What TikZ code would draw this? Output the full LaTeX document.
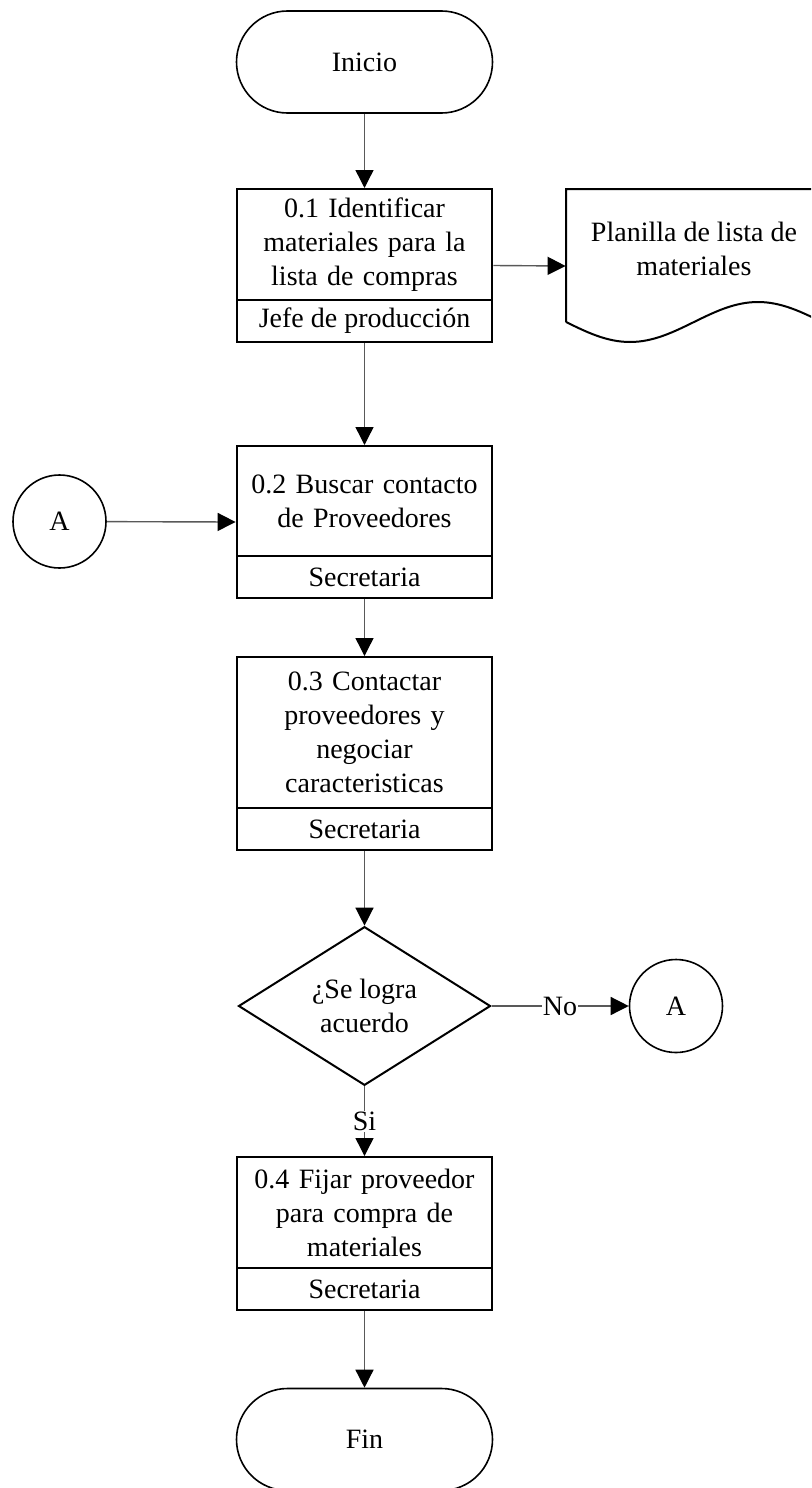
\documentclass[tikz,border=0pt]{standalone}
\usepackage{fontspec}
\setmainfont{Liberation Serif}
\usetikzlibrary{arrows.meta,shapes.geometric,fit}

\begin{document}
\begin{tikzpicture}[x=0.5pt,y=-0.5pt,
  base/.style={font=\fontsize{14}{17}\selectfont, align=center, inner sep=0pt},
  term/.style={base, draw, line width=0.8pt, rounded corners=25.5pt,
               minimum width=128pt, minimum height=51pt},
  task/.style={base, draw, line width=1pt, minimum width=127.5pt, text width=124pt},
  role/.style={base, draw, line width=1pt, minimum width=127.5pt, minimum height=21pt},
  link/.style={base, draw, circle, line width=0.8pt, minimum size=46.5pt},
  decision/.style={base, draw, diamond, line width=1pt,
                   minimum width=126pt, minimum height=75pt},
  docline/.style={line width=1pt},
  conn/.style={draw=black!65, line width=0.7pt,
               -{Triangle[length=9pt,width=9pt,color=black]}},
  lbl/.style={base, fill=white, inner sep=0.5pt},
  stepfit/.style={inner sep=0pt, draw=none}
]
\useasboundingbox (0,0) rectangle (811,1488);
\fill[white] (0,0) rectangle (811,1488);
\clip (0,0) rectangle (811,1488);

% start / end
\node[term] (ini) at (364.5,62) {Inicio};
\node[term] (fin) at (364.5,1439.5) {Fin};

% step 0.1
\node[task, minimum height=55.5pt] (p1) at (364.5,244.5)
  {\raisebox{-2pt}{\parbox{124pt}{\centering 0.1 Identificar\\materiales para la\\lista de compras}}};
\node[role] (p1r) at (364.5,321) {Jefe de producción};
\node[stepfit, fit=(p1)(p1r)] (b1) {};

% document
\node[inner sep=0pt, minimum width=128pt, minimum height=77pt] (doc) at (694,266) {};
\node[base] (doctext) at (694,248.5) {Planilla de lista de\\materiales};
\draw[docline] (566,322) -- (566,189) -- (822,189) -- (822,322)
  (566,322) sin (630,342) cos (694,322) sin (758,302) cos (822,322);

% step 0.2
\node[task, minimum height=55pt] (p2) at (364.5,501)
  {0.2 Buscar contacto\\de Proveedores};
\node[role] (p2r) at (364.5,577) {Secretaria};
\node[stepfit, fit=(p2)(p2r)] (b2) {};

% step 0.3
\node[task, minimum height=75.5pt] (p3) at (364.5,732.5)
  {0.3 Contactar\\proveedores y\\negociar\\caracteristicas};
\node[role] (p3r) at (364.5,829) {Secretaria};

% decision
\node[decision] (dec) at (364.5,1006) {¿Se logra\\acuerdo};

% step 0.4
\node[task, minimum height=55.5pt] (p4) at (364.5,1212.5)
  {0.4 Fijar proveedor\\para compra de\\materiales};
\node[role] (p4r) at (364.5,1289) {Secretaria};

% connectors A
\node[link] (aL) at (59.5,521.5) {A};
\node[link] (aR) at (676,1006) {A};

% flow
\draw[conn] (ini) -- (p1);
\draw[conn] (b1.east) -- (doc.west);
\draw[conn] (p1r) -- (p2);
\draw[conn] (aL) -- (b2.west);
\draw[conn] (p2r) -- (p3);
\draw[conn] (p3r) -- (dec);
\draw[conn] (dec) -- node[lbl] {No} (aR);
\draw[conn] (dec) -- node[lbl] {Si} (p4);
\draw[conn] (p4r) -- (fin);
\end{tikzpicture}
\end{document}
